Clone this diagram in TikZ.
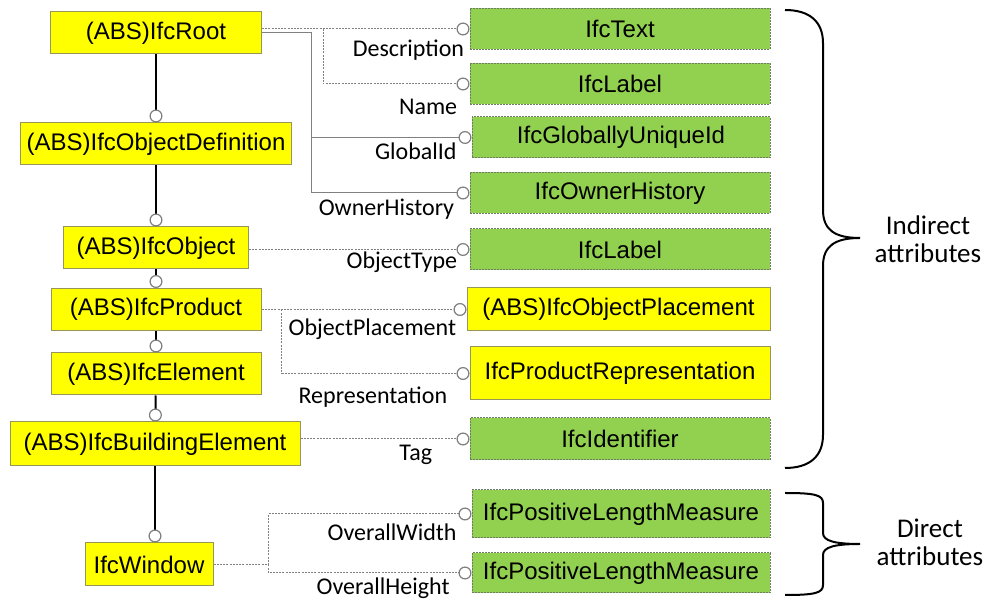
\documentclass[tikz,border=0pt]{standalone}
\usepackage{fontspec}
\setmainfont{Liberation Sans}
\newfontfamily\calfont{Carlito}
\usetikzlibrary{arrows.meta,calc}
\definecolor{entyellow}{RGB}{255,255,0}
\definecolor{entedge}{RGB}{150,150,90}
\definecolor{typgreen}{RGB}{146,208,80}
\definecolor{typedge}{RGB}{110,125,100}
\definecolor{linkgray}{RGB}{128,128,128}
\tikzset{
  ent/.style={draw=entedge, fill=entyellow, line width=0.5pt, inner sep=0pt,
    minimum height=21pt, font=\fontsize{12}{14}\selectfont},
  typ/.style={draw=typedge, fill=typgreen, dash pattern=on 1pt off 0.5pt, line width=0.5pt,
    inner sep=0pt, minimum width=150pt, minimum height=20.5pt, font=\fontsize{12}{14}\selectfont},
  attr/.style={anchor=base east, inner sep=0pt, font=\calfont\fontsize{12}{14}\selectfont},
  ring/.style={-{Circle[open,length=6.5pt,line width=0.6pt 0,color=linkgray]}},
  chain/.style={ring, line width=1pt},
  dline/.style={ring, draw=linkgray, line width=0.5pt, dash pattern=on 1pt off 0.6pt},
  sline/.style={ring, draw=linkgray, line width=0.5pt},
  brace/.style={line width=1pt},
  note/.style={align=center, font=\calfont\fontsize{13.5}{14}\selectfont}
}
\begin{document}
\begin{tikzpicture}[x=0.5pt,y=-0.5pt]
\useasboundingbox (0,0) rectangle (992,603);
% inheritance chain
\node[ent, minimum width=105.5pt] (root) at (156,33) {(ABS)IfcRoot};
\node[ent, minimum width=135.5pt] (objdef) at (156,144) {(ABS)IfcObjectDefinition};
\node[ent, minimum width=92.5pt] (obj) at (156,248) {(ABS)IfcObject};
\node[ent, minimum width=105pt] (prod) at (156,309.5) {(ABS)IfcProduct};
\node[ent, minimum width=105pt] (elem) at (156,374) {(ABS)IfcElement};
\node[ent, minimum width=145pt, minimum height=22pt] (belem) at (155,444) {(ABS)IfcBuildingElement};
\node[ent, minimum width=64pt, minimum height=21.5pt] (win) at (149,564.5) {IfcWindow};
\draw[chain] (root) -- (objdef);
\draw[chain] (objdef) -- (obj);
\draw[chain] (obj) -- (prod);
\draw[chain] (prod) -- (elem);
\draw[chain] (elem) -- (belem);
\draw[chain] (belem.south) -- (belem.south |- win.north);
%
% attribute types
\node[typ] (tText) at (620,29) {IfcText};
\node[typ] (tLabelA) at (620,84) {IfcLabel};
\node[typ, minimum width=149pt] (tGuid) at (621,137.5) {IfcGloballyUniqueId};
\node[typ] (tOwner) at (620,193) {IfcOwnerHistory};
\node[typ] (tLabelB) at (620,249.5) {IfcLabel};
\node[ent, minimum width=151.5pt, minimum height=21.5pt] (tPlace) at (618.5,309.5) {(ABS)IfcObjectPlacement};
\node[ent, minimum width=150pt, minimum height=26.5pt] (tRep) at (620,373.5) {IfcProductRepresentation};
\node[typ, minimum height=21pt] (tIdent) at (620,439) {IfcIdentifier};
\node[typ, minimum width=149pt, minimum height=24pt] (tWidth) at (621,514) {IfcPositiveLengthMeasure};
\node[typ, minimum width=149pt, minimum height=20pt] (tHeight) at (621,573) {IfcPositiveLengthMeasure};
%
% attribute names
\node[attr] (lDesc) at ($(tText.west)+(-5,28)$) {Description};
\node[attr] (lName) at ($(tLabelA.west)+(-12,31)$) {Name};
\node[attr] (lGuid) at ($(tGuid.west)+(-14.5,22.5)$) {GlobalId};
\node[attr] (lOwner) at ($(tOwner.west)+(-15,23)$) {OwnerHistory};
\node[attr] (lType) at ($(tLabelB.west)+(-12,19)$) {ObjectType};
\node[attr] (lPlace) at ($(tPlace.west)+(-10,26)$) {ObjectPlacement};
\node[attr] (lRep) at ($(tRep.west)+(-22,30)$) {Representation};
\node[attr] (lTag) at ($(tIdent.west)+(-37,22)$) {Tag};
\node[attr] (lWidth) at ($(tWidth.west)+(-14.5,27)$) {OverallWidth};
\node[attr] (lHeight) at ($(tHeight.west)+(-21.5,22)$) {OverallHeight};
%
% attribute links
\draw[dline] (root.east |- tText.west) -- (tText.west);
\draw[dline] ($(root.east |- tText.west)+(61,0)$) |- (tLabelA.west);
\draw[sline] (root.east) -- ++(49,0) |- (tGuid.west);
\draw[sline] ($(root.east)+(49,0)$) |- (tOwner.west);
\draw[dline] (obj.east |- tLabelB.west) -- (tLabelB.west);
\draw[dline] (prod.east) -- (tPlace.west);
\draw[dline] ($(prod.east)+(20,0)$) |- (tRep.west);
\draw[dline] (belem.east |- tIdent.west) -- (tIdent.west);
\draw[dline] (win.east) -- ++(55,0) |- (tWidth.west);
\draw[dline] ($(win.east)+(55,0)$) |- (tHeight.west);
%
% braces
\draw[brace] (785,10) .. controls (810,10) and (823,22) .. (823,43) -- (823,210)
  .. controls (823,230) and (835,238) .. (860,238)
  .. controls (835,238) and (823,246) .. (823,266) -- (823,435)
  .. controls (823,456) and (810,468) .. (785,468);
\draw[brace] (785,493) .. controls (815,493) and (823,495) .. (823,503) -- (823,533)
  .. controls (823,541) and (835,544) .. (860,544)
  .. controls (835,544) and (823,547) .. (823,555) -- (823,585)
  .. controls (823,593) and (815,595) .. (785,595);
\node[note] (indirect) at (928,239) {Indirect\\attributes};
\node[note] (direct) at (930,542) {Direct\\attributes};
\end{tikzpicture}
\end{document}
